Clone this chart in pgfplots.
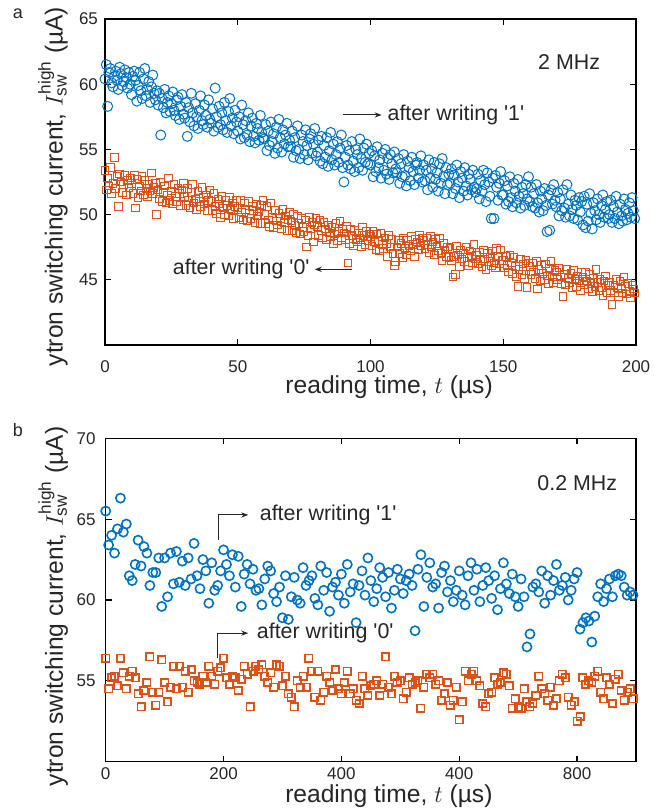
\documentclass[border=0pt]{standalone}
\usepackage{pgfplots}
\pgfplotsset{compat=1.18}
\usepackage{pgfplotstable}
\usepackage{fontspec}
\setmainfont{Liberation Sans}
\usetikzlibrary{arrows.meta}
\definecolor{mblue}{RGB}{0,114,189}
\definecolor{morange}{RGB}{217,83,25}
\definecolor{txt}{RGB}{38,38,38}

% Panel a, blue ("after writing 1"), t = 0, 0.5, ..., 199.5 us
\pgfplotstableread[row sep=\\]{y\\
60.4\\61.5\\58.3\\60.9\\61.2\\60.1\\59.8\\60.6\\61.0\\60.3\\59.6\\61.3\\60.8\\59.9\\60.2\\61.1\\60.5\\59.7\\60.9\\60.0\\
59.2\\60.6\\61.0\\60.3\\58.7\\59.9\\60.9\\59.5\\58.9\\60.4\\61.2\\59.1\\59.6\\60.2\\58.6\\59.8\\60.7\\59.3\\58.8\\59.5\\
58.4\\59.3\\56.1\\58.9\\58.2\\59.6\\57.8\\58.6\\59.1\\57.9\\58.5\\59.4\\58.0\\57.6\\58.8\\59.0\\57.3\\58.3\\59.2\\57.7\\
57.4\\58.6\\56.0\\58.2\\57.1\\59.3\\57.8\\56.8\\58.5\\57.5\\56.6\\58.0\\59.1\\57.2\\56.9\\58.4\\57.6\\56.7\\58.8\\57.3\\
57.0\\58.1\\56.4\\59.7\\57.5\\56.7\\58.3\\56.9\\57.8\\56.5\\58.6\\57.2\\56.3\\57.9\\58.9\\56.8\\57.4\\56.2\\58.0\\57.1\\
56.4\\57.5\\55.8\\58.4\\56.9\\55.9\\57.2\\56.1\\57.8\\55.6\\56.8\\57.4\\56.0\\55.5\\57.0\\56.6\\55.7\\57.6\\56.3\\55.9\\
55.8\\56.9\\54.9\\56.4\\55.3\\57.1\\55.6\\56.2\\54.7\\56.7\\55.1\\57.3\\55.9\\54.8\\56.5\\55.4\\56.1\\57.0\\55.2\\55.7\\
55.2\\56.4\\54.4\\55.9\\54.9\\56.8\\55.0\\54.3\\56.1\\55.6\\54.6\\56.5\\55.3\\54.2\\55.8\\56.2\\54.7\\55.4\\56.6\\54.5\\
54.8\\55.7\\54.1\\56.0\\53.9\\55.3\\54.4\\55.9\\53.7\\54.9\\56.3\\54.2\\55.4\\53.8\\54.6\\55.6\\54.0\\55.1\\56.1\\53.6\\
52.5\\54.4\\55.3\\53.8\\54.9\\53.5\\55.6\\54.1\\53.3\\55.0\\54.6\\53.6\\55.8\\54.3\\53.4\\55.1\\54.0\\55.4\\53.9\\54.7\\
53.8\\54.9\\52.9\\54.5\\53.3\\55.2\\53.6\\54.2\\52.8\\54.7\\53.4\\55.0\\53.1\\54.3\\52.7\\54.6\\53.9\\53.2\\54.8\\53.5\\
53.2\\54.3\\52.4\\53.9\\52.9\\54.6\\53.0\\52.2\\54.1\\53.6\\52.6\\54.4\\53.3\\52.3\\53.8\\54.0\\52.8\\53.4\\54.5\\52.5\\
53.8\\52.6\\53.4\\51.9\\54.2\\52.8\\53.5\\52.1\\54.0\\52.7\\53.2\\51.8\\53.9\\52.4\\54.3\\52.9\\51.6\\53.6\\52.3\\53.1\\
52.4\\53.5\\51.6\\53.0\\52.0\\53.8\\52.5\\51.3\\53.3\\52.8\\51.8\\53.6\\52.2\\51.5\\53.1\\52.7\\51.9\\53.4\\52.1\\51.7\\
52.0\\53.1\\51.2\\52.6\\51.8\\53.4\\52.3\\51.0\\53.2\\52.5\\51.4\\49.7\\52.8\\49.7\\53.0\\52.1\\51.1\\52.4\\53.3\\51.5\\
51.5\\52.6\\50.8\\52.2\\51.0\\52.9\\51.3\\50.6\\52.4\\51.8\\50.9\\52.7\\51.4\\50.5\\52.1\\51.6\\50.7\\52.3\\51.2\\52.9\\
51.0\\52.1\\50.6\\51.6\\50.5\\52.3\\50.9\\50.2\\51.8\\51.2\\50.3\\52.0\\50.7\\48.7\\51.5\\48.8\\51.9\\50.8\\52.3\\51.1\\
50.6\\51.7\\49.9\\51.2\\50.3\\51.9\\50.5\\49.8\\52.3\\50.8\\49.9\\51.5\\50.4\\49.7\\51.1\\50.7\\49.6\\51.3\\50.2\\51.0\\
49.2\\51.4\\49.0\\50.8\\49.5\\51.6\\50.1\\48.9\\50.9\\50.3\\49.6\\51.2\\50.0\\49.4\\50.7\\51.5\\49.8\\50.4\\51.0\\49.7\\
50.0\\51.1\\49.4\\50.6\\49.7\\51.4\\50.2\\49.3\\50.8\\49.9\\49.5\\51.2\\50.4\\49.6\\50.1\\50.9\\49.8\\51.3\\50.3\\49.7\\
}\aone

% Panel a, orange ("after writing 0")
\pgfplotstableread[row sep=\\]{y\\
53.4\\51.9\\52.8\\52.2\\53.6\\51.6\\52.4\\54.4\\52.0\\52.9\\50.6\\53.1\\52.5\\51.7\\52.3\\53.0\\51.5\\52.6\\52.1\\52.8\\
52.4\\51.6\\53.0\\50.5\\52.7\\51.3\\52.2\\51.8\\52.9\\51.5\\52.6\\52.0\\51.4\\52.3\\51.8\\53.2\\51.6\\52.1\\52.4\\50.0\\
51.9\\51.2\\52.5\\51.0\\51.7\\52.2\\50.9\\51.5\\52.8\\51.1\\51.8\\50.8\\52.3\\51.4\\51.0\\52.0\\51.6\\50.7\\51.9\\52.4\\
51.4\\50.7\\52.0\\51.1\\50.5\\51.7\\52.3\\50.9\\51.2\\50.4\\51.8\\51.0\\50.6\\52.1\\51.3\\50.8\\51.5\\50.3\\51.1\\51.9\\
51.0\\50.3\\51.6\\50.6\\50.1\\51.2\\50.8\\49.8\\51.4\\50.5\\50.0\\51.1\\50.7\\49.9\\51.3\\50.4\\50.9\\49.7\\50.6\\51.1\\
50.5\\49.8\\51.1\\50.2\\49.6\\50.9\\50.4\\49.5\\51.0\\50.1\\49.7\\50.6\\50.3\\49.4\\50.8\\49.9\\50.2\\49.3\\50.7\\51.1\\
50.0\\49.3\\50.6\\49.6\\49.1\\50.9\\49.8\\49.0\\50.3\\49.5\\49.2\\50.1\\49.7\\48.9\\50.4\\49.4\\49.9\\48.8\\49.6\\50.2\\
49.5\\48.8\\50.0\\49.2\\48.6\\49.9\\49.3\\48.5\\49.7\\49.0\\48.7\\49.6\\47.5\\48.4\\49.8\\48.9\\49.4\\47.9\\49.2\\49.7\\
49.1\\48.4\\49.6\\48.8\\48.2\\49.4\\48.9\\48.1\\49.2\\48.6\\48.3\\49.0\\47.8\\48.5\\49.3\\48.0\\48.7\\49.5\\48.2\\48.9\\
48.6\\48.1\\49.1\\46.3\\47.8\\48.9\\48.4\\47.6\\48.8\\48.1\\47.9\\48.6\\48.2\\47.5\\49.0\\48.4\\47.7\\48.7\\48.0\\48.5\\
48.3\\47.6\\48.7\\47.9\\47.3\\48.5\\48.0\\47.2\\48.6\\47.7\\47.4\\48.2\\47.8\\46.8\\48.4\\47.5\\48.1\\47.0\\46.1\\46.4\\
47.5\\48.0\\47.0\\47.8\\46.7\\48.2\\47.4\\46.9\\48.0\\47.6\\47.2\\48.3\\47.7\\46.8\\48.1\\47.9\\47.3\\48.4\\47.6\\48.2\\
48.0\\47.4\\48.2\\47.7\\47.1\\48.3\\47.5\\47.9\\46.9\\48.1\\47.6\\47.2\\48.2\\47.0\\46.5\\47.8\\47.3\\46.8\\47.5\\46.7\\
47.4\\46.5\\45.2\\46.8\\45.4\\47.6\\46.9\\46.0\\47.3\\46.6\\47.0\\46.4\\47.5\\46.7\\46.1\\47.2\\46.8\\46.3\\47.7\\46.6\\
46.9\\46.2\\47.1\\46.5\\46.0\\47.3\\46.6\\45.8\\47.0\\46.4\\46.7\\46.1\\47.2\\46.3\\45.9\\47.4\\46.8\\46.2\\47.3\\46.5\\
46.5\\45.9\\46.8\\46.1\\45.6\\46.9\\46.3\\45.5\\46.7\\46.0\\45.2\\44.5\\45.8\\46.6\\45.4\\46.2\\45.1\\46.5\\44.4\\46.3\\
46.0\\45.4\\46.3\\45.6\\45.1\\46.4\\44.3\\45.8\\44.9\\46.1\\45.5\\45.0\\46.2\\45.3\\44.7\\45.9\\46.4\\45.2\\44.8\\45.7\\
45.6\\45.0\\45.9\\45.2\\44.7\\43.7\\45.4\\44.6\\45.8\\45.1\\44.8\\45.5\\44.4\\45.7\\45.0\\44.5\\45.3\\44.9\\44.2\\45.6\\
45.2\\44.6\\45.6\\44.9\\44.3\\45.4\\44.7\\44.1\\45.1\\44.5\\45.8\\44.8\\44.2\\45.0\\44.4\\43.8\\44.9\\45.3\\44.0\\44.6\\
44.8\\44.2\\43.1\\44.6\\44.0\\45.0\\44.4\\43.7\\44.9\\44.3\\44.0\\45.2\\44.5\\43.9\\44.7\\44.1\\43.6\\44.6\\44.3\\44.0\\
}\azero

% Panel b, blue, t = 0, 5, ..., 895 us
\pgfplotstableread[row sep=\\]{y\\
65.5\\63.4\\64.0\\62.9\\64.4\\66.3\\64.2\\64.7\\61.5\\61.2\\62.2\\63.7\\62.1\\63.3\\62.9\\60.9\\61.7\\61.7\\62.6\\59.6\\
62.6\\60.2\\62.9\\61.0\\63.0\\61.1\\62.4\\60.9\\62.6\\61.3\\63.5\\61.5\\60.7\\62.5\\61.8\\59.8\\62.3\\60.6\\60.9\\61.8\\
63.1\\62.2\\61.5\\62.8\\60.8\\62.7\\59.6\\61.6\\62.2\\61.0\\61.9\\60.6\\60.7\\59.7\\61.3\\62.1\\61.8\\60.4\\59.9\\60.8\\
58.9\\61.5\\58.8\\60.2\\61.4\\60.0\\59.8\\62.0\\60.9\\61.2\\61.5\\60.1\\59.7\\62.1\\60.6\\61.7\\59.3\\60.8\\61.1\\60.3\\
61.6\\59.8\\62.2\\60.5\\61.0\\58.6\\60.9\\61.8\\60.3\\62.6\\61.2\\59.9\\60.7\\62.0\\61.4\\60.2\\61.7\\59.5\\60.6\\61.9\\
61.3\\60.4\\61.2\\61.6\\60.9\\58.1\\61.9\\62.8\\59.6\\61.4\\62.3\\60.8\\61.0\\59.5\\61.7\\62.1\\60.5\\61.2\\59.9\\60.6\\
61.8\\60.3\\59.7\\61.5\\62.3\\60.6\\61.9\\59.9\\60.9\\62.0\\61.2\\60.1\\61.5\\59.4\\60.7\\62.3\\61.0\\60.4\\61.6\\60.2\\
59.6\\61.3\\60.2\\57.1\\57.9\\60.8\\61.0\\60.5\\61.8\\59.8\\61.5\\60.3\\61.2\\62.2\\60.6\\60.9\\61.4\\60.0\\60.6\\61.3\\
61.7\\58.2\\58.6\\58.9\\58.7\\57.4\\59.0\\60.2\\61.0\\59.9\\60.7\\61.3\\60.2\\61.5\\61.6\\61.5\\60.8\\60.3\\60.5\\60.3\\
}\bone

% Panel b, orange
\pgfplotstableread[row sep=\\]{y\\
56.4\\54.5\\55.2\\55.3\\54.7\\56.4\\55.5\\54.5\\55.3\\55.6\\55.2\\54.2\\53.4\\54.4\\54.9\\56.5\\54.3\\53.5\\54.3\\56.3\\
54.9\\53.7\\54.6\\55.9\\54.5\\55.9\\54.6\\55.6\\54.3\\55.7\\55.0\\54.9\\54.8\\55.3\\54.9\\55.9\\55.3\\54.8\\55.6\\55.8\\
56.4\\55.2\\54.8\\55.3\\55.2\\54.4\\55.1\\55.9\\55.4\\53.4\\55.6\\55.9\\55.7\\56.0\\55.3\\54.9\\55.5\\54.6\\56.0\\55.9\\
54.7\\55.3\\54.2\\54.0\\53.4\\55.0\\54.6\\55.3\\54.6\\56.4\\55.6\\54.0\\55.6\\53.8\\54.3\\55.3\\54.9\\54.4\\55.7\\54.5\\
54.2\\54.9\\55.6\\54.2\\54.5\\53.8\\53.6\\55.3\\54.5\\54.1\\54.7\\54.8\\55.0\\54.1\\54.8\\56.5\\54.6\\54.2\\55.3\\54.9\\
55.0\\53.9\\54.3\\55.2\\54.8\\54.9\\55.0\\53.3\\54.6\\55.4\\55.2\\55.4\\54.8\\55.0\\53.8\\54.2\\54.9\\53.5\\53.8\\54.6\\
52.6\\53.7\\55.6\\55.0\\55.4\\55.6\\55.0\\54.7\\53.6\\53.4\\54.2\\54.3\\55.2\\54.8\\54.9\\55.5\\55.4\\54.7\\53.3\\53.9\\
53.4\\53.3\\54.5\\53.7\\53.4\\53.6\\54.1\\55.3\\54.5\\54.2\\53.8\\54.6\\53.5\\53.9\\55.0\\55.4\\55.2\\54.0\\53.5\\53.7\\
52.5\\52.8\\55.2\\54.8\\55.0\\54.9\\55.3\\55.6\\54.3\\53.9\\55.2\\54.8\\53.6\\55.1\\55.4\\54.4\\53.8\\54.3\\54.5\\53.9\\
}\bzero

\pgfplotsset{
  panel/.style={
    scale only axis,
    axis line style={line width=0.6pt, black},
    tick style={line width=0.6pt, black},
    tick align=inside,
    major tick length=3pt,
    /pgf/number format/assume math mode=true,
    ticklabel style={font=\fontsize{8.5}{10}\selectfont, text=txt},
    label style={font=\fontsize{12.3}{14}\selectfont, text=txt},
  },
}

\begin{document}
\begin{tikzpicture}
\useasboundingbox (0,0) rectangle (326.5pt,-406pt);

\node[font=\fontsize{9}{10}\selectfont, text=txt] at (9pt,-7pt) {a};
\node[font=\fontsize{9}{10}\selectfont, text=txt] at (9pt,-215pt) {b};

\begin{axis}[panel,
  at={(52.5pt,-9.5pt)}, anchor=north west,
  width=265.5pt, height=163pt,
  xmin=0, xmax=200, ymin=40, ymax=65,
  xtick={0,50,100,150,200},
  ytick={45,50,55,60,65},
  xticklabel style={yshift=-4.5pt},
  xlabel={reading time, $t$ (µs)},
  ylabel={ytron switching current, $I^{\mathrm{high}}_{\mathrm{sw}}$ (µA)},
  xlabel style={at={(axis description cs:0.535,-0.129)}, anchor=center},
  ylabel style={at={(axis description cs:-0.098,0.486)}, anchor=center},
]
\addplot[only marks, mark=o, mark size=2.5pt, color=mblue, mark options={line width=0.5pt}]
  table[x expr=\coordindex*0.5, y=y] {\aone};
\addplot[only marks, mark=square, mark size=1.9pt, color=morange, mark options={line width=0.5pt}]
  table[x expr=\coordindex*0.5, y=y] {\azero};
\node[font=\fontsize{10.7}{12}\selectfont, text=txt] at (axis cs:174.8,61.7) {2 MHz};
\draw[line width=0.5pt, txt, -{Stealth[length=3.5pt,width=2.6pt]}] (axis cs:89.5,57.64) -- (axis cs:104.2,57.64);
\node[font=\fontsize{10.7}{12}\selectfont, text=txt, anchor=west, inner sep=0pt] at (axis cs:106.3,57.64) {after writing \textquotesingle 1\textquotesingle};
\draw[line width=0.5pt, txt, -{Stealth[length=3.5pt,width=2.6pt]}] (axis cs:93,45.8) -- (axis cs:79,45.8);
\node[font=\fontsize{10.7}{12}\selectfont, text=txt, anchor=east, inner sep=0pt] at (axis cs:77.2,45.8) {after writing \textquotesingle 0\textquotesingle};
\end{axis}

\begin{axis}[panel,
  at={(52.85pt,-219.15pt)}, anchor=north west,
  width=265.15pt, height=161.7pt,
  xmin=0, xmax=900, ymin=50, ymax=70,
  xtick={0,200,400,600,800},
  xticklabels={0,200,400,400,800},
  ytick={55,60,65,70},
  xticklabel style={yshift=0.5pt},
  yticklabel style={xshift=-1.5pt},
  xlabel={reading time, $t$ (µs)},
  ylabel={ytron switching current, $I^{\mathrm{high}}_{\mathrm{sw}}$ (µA)},
  xlabel style={at={(axis description cs:0.534,-0.108)}, anchor=center},
  ylabel style={at={(axis description cs:-0.099,0.48)}, anchor=center},
]
\addplot[only marks, mark=o, mark size=2.3pt, color=mblue, mark options={line width=0.8pt}]
  table[x expr=\coordindex*5, y=y] {\bone};
\addplot[only marks, mark=square, mark size=1.85pt, color=morange, mark options={line width=0.8pt}]
  table[x expr=\coordindex*5, y=y] {\bzero};
\node[font=\fontsize{10.7}{12}\selectfont, text=txt] at (axis cs:800.3,67.2) {0.2 MHz};
\draw[line width=0.5pt, txt, -{Stealth[length=3.5pt,width=2.6pt]}] (axis cs:191,63.71) -- (axis cs:191,65.26) -- (axis cs:241.9,65.26);
\node[font=\fontsize{10.7}{12}\selectfont, text=txt, anchor=west, inner sep=0pt] at (axis cs:261,65.26) {after writing \textquotesingle 1\textquotesingle};
\draw[line width=0.5pt, txt, -{Stealth[length=3.5pt,width=2.6pt]}] (axis cs:189.4,56.39) -- (axis cs:189.4,57.95) -- (axis cs:241.9,57.95);
\node[font=\fontsize{10.7}{12}\selectfont, text=txt, anchor=west, inner sep=0pt] at (axis cs:256,57.95) {after writing \textquotesingle 0\textquotesingle};
\end{axis}
\end{tikzpicture}
\end{document}
